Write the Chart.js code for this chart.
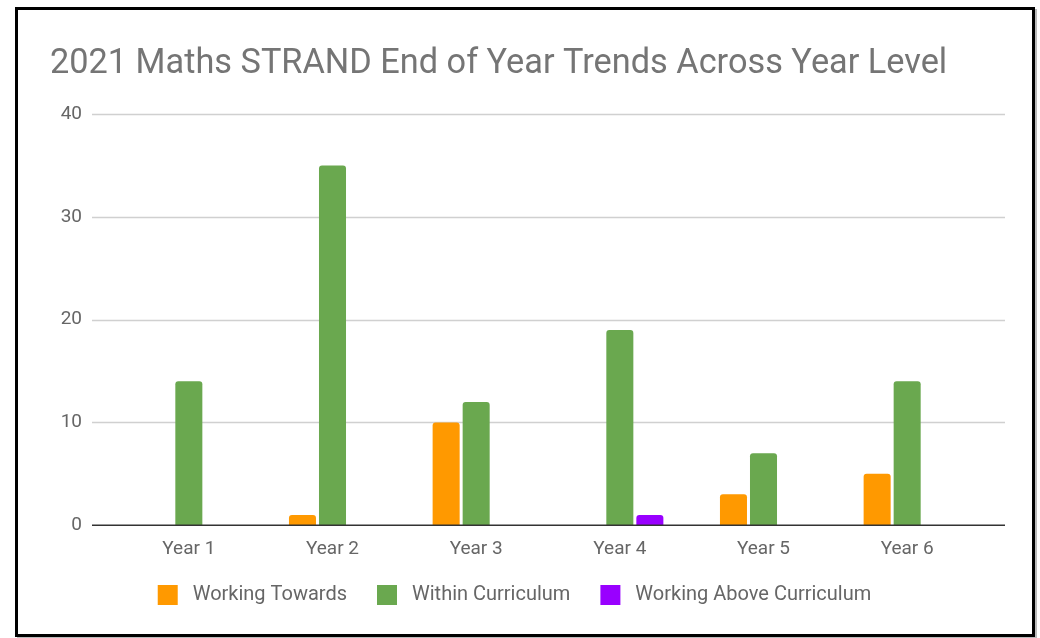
<!DOCTYPE html>
<html>
<head>
<meta charset="utf-8">
<script src="https://cdn.jsdelivr.net/npm/chart.js@4/dist/chart.umd.min.js"></script>
<style>
  html, body { margin: 0; padding: 0; background: #fff; }
  #wrap { position: relative; width: 1040px; height: 638px; }
  #frame {
    position: absolute; left: 15px; top: 7px; width: 1020px; height: 630px;
    box-sizing: border-box; border: 3px solid #000; box-shadow: 2px 2px 0 #bbb;
    pointer-events: none;
  }
</style>
</head>
<body>
<div id="wrap">
  <canvas id="myChart" width="1040" height="638"></canvas>
  <div id="frame"></div>
</div>
<script>
let yearLabels = ["Year 1", "Year 2", "Year 3", "Year 4", "Year 5", "Year 6"];
let workingTowards = [0, 1, 10, 0, 3, 5];
let withinCurriculum = [14, 35, 12, 19, 7, 14];
let workingAbove = [0, 0, 0, 1, 0, 0];

// gridlines run a bit past the bar area on both sides
let gridLines = {
  id: "gridLines",
  beforeDatasetsDraw(chart) {
    let ctx = chart.ctx;
    let area = chart.chartArea;
    let y = chart.scales.y;
    ctx.save();
    ctx.strokeStyle = "#d0d0d0";
    ctx.lineWidth = 1.5;
    y.ticks.forEach(t => {
      if (t.value === 0) return;
      let py = Math.round(y.getPixelForValue(t.value)) + 0.5;
      ctx.beginPath();
      ctx.moveTo(area.left - 25, py);
      ctx.lineTo(area.right + 26, py);
      ctx.stroke();
    });
    ctx.restore();
  },
  afterDatasetsDraw(chart) {
    let ctx = chart.ctx;
    let area = chart.chartArea;
    let py = chart.scales.y.getPixelForValue(0);
    ctx.save();
    ctx.strokeStyle = "#333";
    ctx.lineWidth = 1.5;
    ctx.beginPath();
    ctx.moveTo(area.left - 25, py);
    ctx.lineTo(area.right + 26, py);
    ctx.stroke();
    ctx.restore();
  }
};

let barStyle = {
  categoryPercentage: 0.627,
  barPercentage: 0.9,
  borderRadius: { topLeft: 3, topRight: 3 },
  borderSkipped: "bottom"
};

let myChart = document.getElementById("myChart").getContext("2d");
let yearChart = new Chart(myChart, {
  type: "bar",
  data: {
    labels: yearLabels,
    datasets: [
      { label: "Working Towards", data: workingTowards, backgroundColor: "#ff9900", ...barStyle },
      { label: "Within Curriculum", data: withinCurriculum, backgroundColor: "#6aa84f", ...barStyle },
      { label: "Working Above Curriculum", data: workingAbove, backgroundColor: "#9900ff", ...barStyle },
    ],
  },
  options: {
    responsive: false,
    animation: false,
    layout: { padding: { left: 50, right: 61, top: 0, bottom: 23 } },
    scales: {
      x: {
        afterFit(scale) { scale.height -= 19; },
        grid: { display: false, drawTicks: false },
        border: { display: false },
        ticks: { color: "#666", padding: 13, font: { family: "Roboto", size: 19 } },
      },
      y: {
        min: 0,
        max: 40,
        afterFit(scale) { scale.width = 67; },
        grid: { display: false, drawTicks: false },
        border: { display: false },
        ticks: { stepSize: 10, color: "#666", padding: 35, font: { family: "Roboto", size: 19 } },
      },
    },
    plugins: {
      title: {
        display: true,
        text: "2021 Maths STRAND End of Year Trends Across Year Level",
        align: "start",
        color: "#757575",
        font: { family: "Roboto", size: 34.3, weight: "normal" },
        padding: { top: 44, bottom: 29 },
      },
      legend: {
        position: "bottom",
        labels: {
          color: "#666",
          boxWidth: 20,
          boxHeight: 20,
          padding: 30,
          font: { family: "Roboto", size: 20 },
          // a little more room between the swatch and its text
          generateLabels(chart) {
            let items = Chart.defaults.plugins.legend.labels.generateLabels(chart);
            items.forEach(it => { it.text = " " + it.text; });
            return items;
          },
        },
      },
      tooltip: { enabled: false },
    },
  },
  plugins: [gridLines],
});
</script>
</body>
</html>
